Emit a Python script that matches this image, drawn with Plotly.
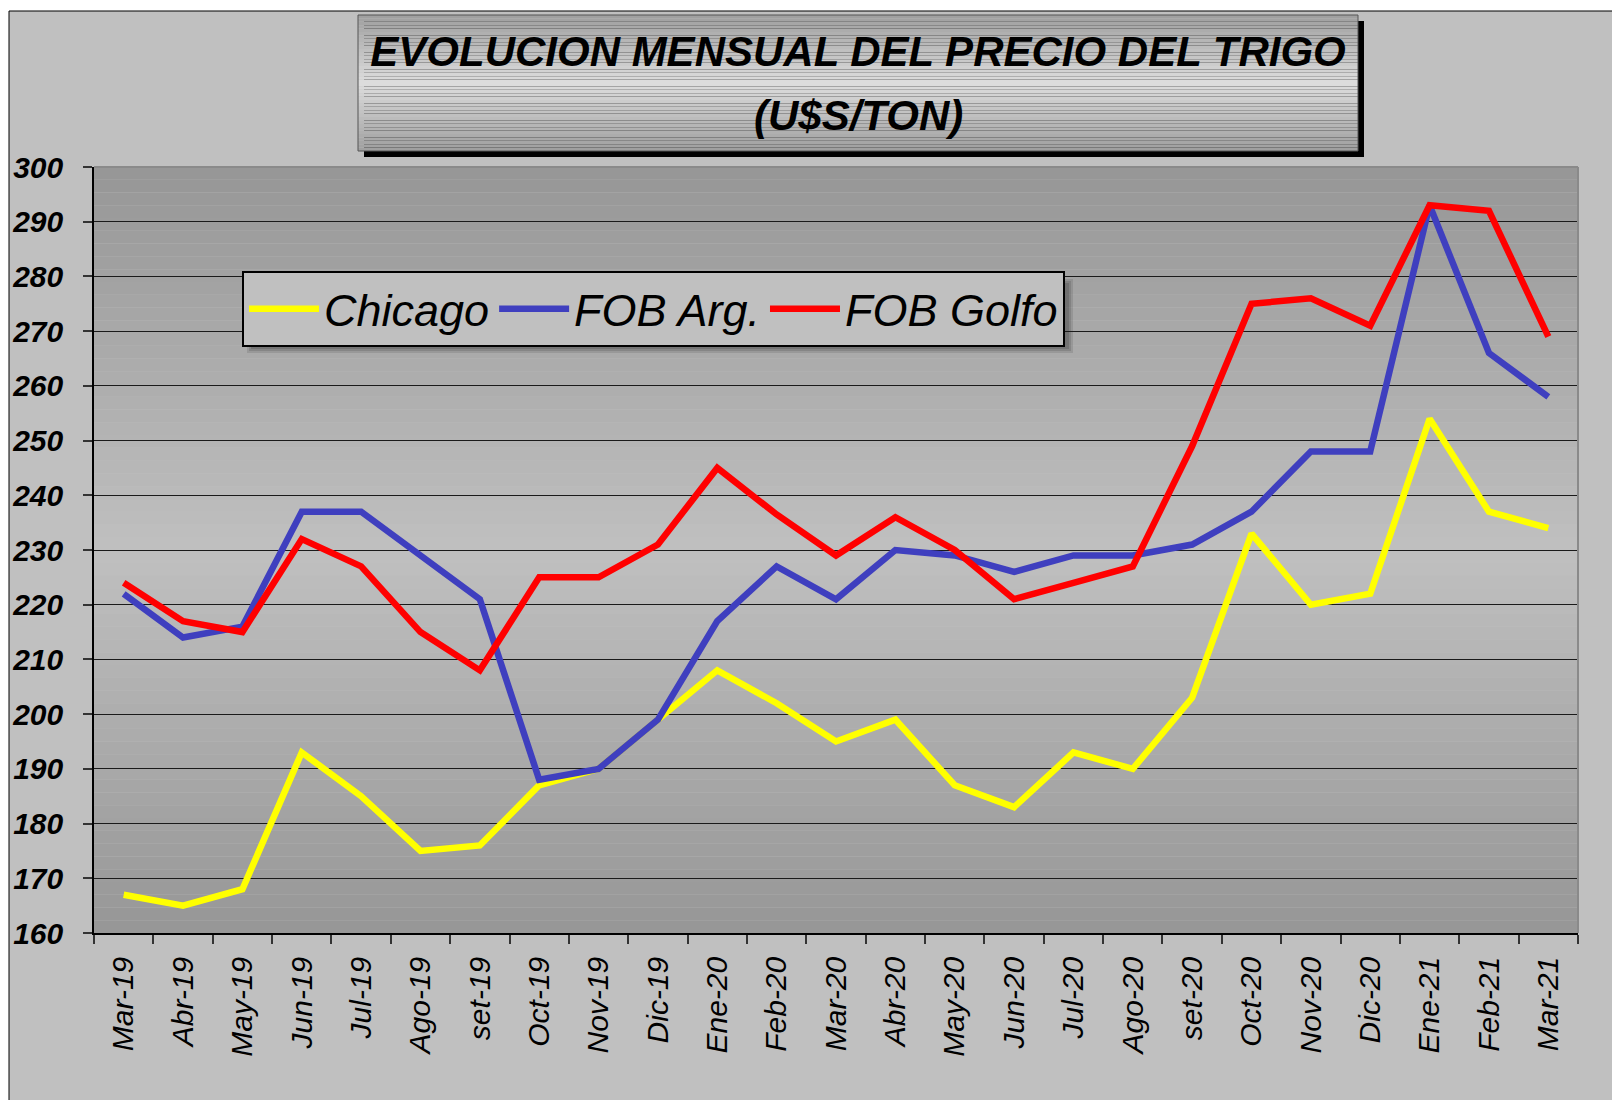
import plotly.graph_objects as go

# ---------------- data ----------------
months = ["Mar-19", "Abr-19", "May-19", "Jun-19", "Jul-19", "Ago-19", "set-19",
          "Oct-19", "Nov-19", "Dic-19", "Ene-20", "Feb-20", "Mar-20", "Abr-20",
          "May-20", "Jun-20", "Jul-20", "Ago-20", "set-20", "Oct-20", "Nov-20",
          "Dic-20", "Ene-21", "Feb-21", "Mar-21"]

chicago = [167, 165, 168, 193, 185, 175, 176, 187, 190, 199, 208, 202, 195, 199,
           187, 183, 193, 190, 203, 233, 220, 222, 254, 237, 234]

fob_arg = [222, 214, 216, 237, 237, 229, 221, 188, 190, 199, 217, 227, 221, 230,
           229, 226, 229, 229, 231, 237, 248, 248, 293, 266, 258]

fob_golfo = [224, 217, 215, 232, 227, 215, 208, 225, 225, 231, 245, 236.5, 229, 236,
             230, 221, 224, 227, 249, 275, 276, 271, 293, 292, 269]

y_ticks = list(range(160, 301, 10))

title_line1 = "EVOLUCION MENSUAL DEL PRECIO DEL TRIGO"
title_line2 = "(U$S/TON)"

# ---------------- layout geometry (page pixels) ----------------
W, H = 1612, 1100
L, R, T, B = 94, 1578, 167, 933   # plot area


def xp(px):
    return (px - L) / (R - L)


def yp(py):
    return (B - py) / (B - T)


FONT = "Liberation Sans, Arial, sans-serif"

fig = go.Figure()

fig.add_trace(go.Scatter(x=months, y=chicago, name="Chicago", mode="lines",
                         line=dict(color="#FFFF00", width=6.5)))
fig.add_trace(go.Scatter(x=months, y=fob_arg, name="FOB Arg.", mode="lines",
                         line=dict(color="#3F3FBF", width=6.5)))
fig.add_trace(go.Scatter(x=months, y=fob_golfo, name="FOB Golfo", mode="lines",
                         line=dict(color="#FF0000", width=6.5)))

shapes = []

# outer chart frame
shapes.append(dict(type="rect", xref="paper", yref="paper",
                   x0=xp(9), x1=xp(1750), y0=yp(1300), y1=yp(11),
                   fillcolor="#C0C0C0", line=dict(color="black", width=1),
                   layer="below"))


def grad(c_edge, c_mid, t):
    f = 1 - abs(2 * t - 1)
    v = int(round(c_edge + (c_mid - c_edge) * f))
    return f"rgb({v},{v},{v})"


# plot-area gradient (dark - light - dark)
N = 60
for i in range(N):
    t = (i + 0.5) / N
    shapes.append(dict(type="rect", xref="x domain", yref="y domain",
                       x0=0, x1=1, y0=1 - i / N, y1=1 - (i + 1) / N,
                       fillcolor=grad(150, 192, t), line=dict(width=0),
                       layer="below"))

# legend shadow (soft)
for k, a in enumerate([0.18, 0.22, 0.28]):
    d = 2 * k
    shapes.append(dict(type="rect", xref="x domain", yref="y domain",
                       x0=xp(247 + d), x1=xp(1073 - d), y0=yp(353 - d),
                       y1=yp(279 + d),
                       fillcolor=f"rgba(70,70,70,{a})", line=dict(width=0),
                       layer="below"))

# top and right plot border (gray)
shapes.append(dict(type="line", xref="x domain", yref="y domain",
                   x0=0, x1=1, y0=1, y1=1, line=dict(color="#8A8A8A", width=2),
                   layer="above"))
shapes.append(dict(type="line", xref="x domain", yref="y domain",
                   x0=1, x1=1, y0=0, y1=1, line=dict(color="#8A8A8A", width=2),
                   layer="above"))

# title box shadow
shapes.append(dict(type="rect", xref="paper", yref="paper",
                   x0=xp(364), x1=xp(1364), y0=yp(157), y1=yp(21),
                   fillcolor="black", line=dict(width=0), layer="above"))
# title box gradient
M = 40
ty0, ty1 = 15, 151
for i in range(M):
    t = (i + 0.5) / M
    a = ty0 + (ty1 - ty0) * i / M
    b = ty0 + (ty1 - ty0) * (i + 1) / M
    shapes.append(dict(type="rect", xref="paper", yref="paper",
                       x0=xp(358), x1=xp(1358), y0=yp(b), y1=yp(a),
                       fillcolor=grad(158, 222, t), line=dict(width=0),
                       layer="above"))
shapes.append(dict(type="rect", xref="paper", yref="paper",
                   x0=xp(358), x1=xp(1358), y0=yp(151), y1=yp(15),
                   fillcolor="rgba(0,0,0,0)", line=dict(color="#555555", width=1),
                   layer="above"))

fig.update_layout(
    width=W, height=H,
    margin=dict(l=L, r=W - R, t=T, b=H - B, pad=0, autoexpand=False),
    paper_bgcolor="white",
    plot_bgcolor="rgba(0,0,0,0)",
    shapes=shapes,
    showlegend=True,
    title=dict(text=title_line1, x=858 / W, xref="container",
               xanchor="center",
               y=1 - 51 / H, yref="container", yanchor="middle",
               font=dict(family=FONT, size=42, color="black",
                         weight="bold", style="italic")),
    annotations=[dict(text=title_line2, xref="paper", yref="paper",
                      x=xp(858), y=yp(116), xanchor="center", yanchor="middle",
                      showarrow=False,
                      font=dict(family=FONT, size=42, color="black",
                                weight="bold", style="italic"))],
    legend=dict(orientation="h", x=xp(242), y=yp(271), xanchor="left",
                yanchor="top", bgcolor="#C0C0C0", bordercolor="black",
                borderwidth=2, itemwidth=70,
                font=dict(family=FONT, size=45, color="black", style="italic")),
    xaxis=dict(type="category", categoryorder="array", categoryarray=months,
               tickson="boundaries", ticks="outside", ticklen=9,
               tickcolor="#333333", tickwidth=1.5, automargin=False,
               showgrid=False, showline=True, linecolor="black", linewidth=1.5,
               tickangle=-90, ticklabelstandoff=10,
               tickfont=dict(family=FONT, size=30, color="black",
                             style="italic"),
               range=[-0.5, len(months) - 0.5]),
    yaxis=dict(range=[160, 300], tickvals=y_ticks, ticks="outside", ticklen=9,
               tickcolor="#333333", tickwidth=1.5, automargin=False,
               showgrid=True, gridcolor="#1a1a1a", gridwidth=1,
               showline=True, linecolor="black", linewidth=1.5,
               zeroline=False, ticklabelstandoff=14,
               tickfont=dict(family=FONT, size=30, color="black",
                             weight="bold", style="italic")),
)

fig.write_html("out.html", config={"displayModeBar": False},
               post_script="document.body.style.margin='0px';")
